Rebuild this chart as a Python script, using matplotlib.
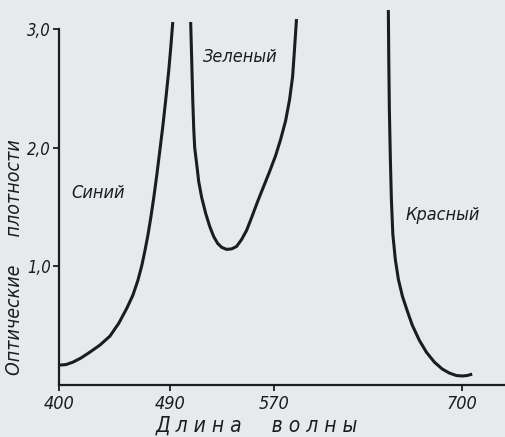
import matplotlib
matplotlib.use("Agg")
import matplotlib.pyplot as plt
import numpy as np

# hand-drawn wavelength axis: tick spacing is uneven on the original page
tick_nm = [400, 490, 570, 700]
tick_pos = [0, 111, 215, 404]
tick_labels_x = ["400", "490", "570", "700"]
yticks = [1.0, 2.0, 3.0]
tick_labels_y = ["1,0", "2,0", "3,0"]

# blue (Синий)
blue_nm = [400.8, 405.7, 411.4, 417.8, 425.1, 433.2, 441.4, 448.6, 455.1, 460.0, 464.1, 467.3,
           469.7, 472.2, 474.6, 477.0, 479.4, 481.8, 484.3, 486.7, 489.2, 490.8, 492.3]
blue_od = [0.168, 0.172, 0.193, 0.227, 0.277, 0.336, 0.412, 0.521, 0.647, 0.756, 0.882, 1.008,
           1.126, 1.261, 1.412, 1.580, 1.765, 1.966, 2.176, 2.403, 2.655, 2.849, 3.059]

# green (Зеленый)
green_nm = [506.1, 506.9, 507.7, 508.5, 509.2, 510.8, 512.3, 514.6, 517.7, 520.8, 523.8, 526.9,
            530.0, 533.8, 537.7, 541.5, 545.4, 549.2, 553.1, 557.7, 562.3, 566.9, 571.4, 574.8,
            578.3, 581.0, 583.1, 584.4, 585.8]
green_od = [3.059, 2.739, 2.403, 2.151, 2.000, 1.857, 1.714, 1.580, 1.445, 1.336, 1.252, 1.193,
            1.160, 1.143, 1.147, 1.168, 1.227, 1.303, 1.412, 1.546, 1.672, 1.798, 1.933, 2.067,
            2.227, 2.403, 2.597, 2.824, 3.084]

# red (Красный)
red_nm = [649.1, 649.4, 649.8, 650.5, 651.2, 652.2, 653.9, 656.0, 658.8, 662.2, 665.6, 670.4,
          675.3, 680.8, 686.3, 691.1, 695.9, 700.0, 703.5, 706.9]
red_od = [3.160, 2.739, 2.319, 1.899, 1.563, 1.269, 1.059, 0.891, 0.748, 0.622, 0.504, 0.378,
          0.277, 0.193, 0.134, 0.101, 0.080, 0.076, 0.080, 0.092]


def piecewise(v, xp, fp):
    v = np.asarray(v, float)
    out = np.interp(v, xp, fp)
    lo = fp[0] + (v - xp[0]) * (fp[1] - fp[0]) / (xp[1] - xp[0])
    hi = fp[-1] + (v - xp[-1]) * (fp[-1] - fp[-2]) / (xp[-1] - xp[-2])
    return np.where(v < xp[0], lo, np.where(v > xp[-1], hi, out))


def fwd(v):
    return piecewise(v, tick_nm, tick_pos)


def inv(v):
    return piecewise(v, tick_pos, tick_nm)


plt.rcParams['font.family'] = ['Liberation Sans Narrow', 'DejaVu Sans']
plt.rcParams['font.style'] = 'italic'
plt.rcParams['font.stretch'] = 'condensed'

ink = '#1c1c1c'
paper = '#e7eaed'

fig = plt.figure(figsize=(5.06, 4.37), dpi=100, facecolor=paper)
ax = fig.add_axes([0.1166, 0.119, 0.88, 0.8146])
ax.set_facecolor(paper)
ax.set_xscale('function', functions=(fwd, inv))

for xs, ys in [(blue_nm, blue_od), (green_nm, green_od), (red_nm, red_od)]:
    ax.plot(xs, ys, color=ink, lw=2.2, clip_on=False, solid_capstyle='butt',
            solid_joinstyle='round')

ax.set_xlim(400, 729)
ax.set_ylim(0, 3.0)
ax.set_xticks(tick_nm)
ax.set_xticklabels(tick_labels_x, fontsize=13)
ax.set_yticks(yticks)
ax.set_yticklabels(tick_labels_y, fontsize=12)
ax.tick_params(axis='both', direction='out', length=4, width=1.3, colors=ink, pad=2)
ax.tick_params(axis='x', pad=3)

for s in ['top', 'right']:
    ax.spines[s].set_visible(False)
for s in ['left', 'bottom']:
    ax.spines[s].set_linewidth(1.6)
    ax.spines[s].set_color(ink)

ax.text(431.6, 1.62, 'Синий', fontsize=13, color=ink, ha='center', va='center')
ax.text(544.6, 2.76, 'Зеленый', fontsize=13, color=ink, ha='center', va='center')
ax.text(686.3, 1.43, 'Красный', fontsize=13, color=ink, ha='center', va='center')

fig.text(0.029, 0.412, 'Оптические     плотности', rotation=90, fontsize=14,
         color=ink, ha='center', va='center')
fig.text(0.508, 0.027, 'Д л и н а     в о л н ы', fontsize=15,
         color=ink, ha='center', va='center')

fig.savefig('out.png', dpi=100, facecolor=paper)
